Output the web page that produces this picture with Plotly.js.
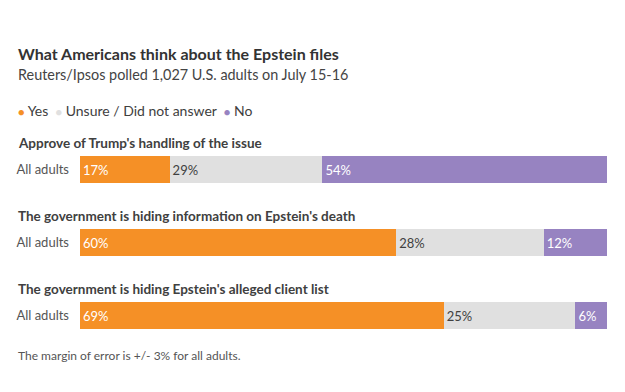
<!DOCTYPE html>
<html>
<head>
<meta charset="utf-8">
<script src="https://cdn.plot.ly/plotly-3.0.1.min.js"></script>
<style>html,body{margin:0;padding:0;background:#fff;}#chart{width:625px;height:392px;}</style>
</head>
<body>
<div id="chart"></div>
<script>
const questions = [
  "Approve of Trump's handling of the issue",
  "The government is hiding information on Epstein's death",
  "The government is hiding Epstein's alleged client list"
];
const rowLabels = ["All adults", "All adults", "All adults"];
const yesVals = [17, 60, 69];
const unsureVals = [29, 28, 25];
const noVals = [54, 12, 6];
const seriesNames = ["Yes", "Unsure / Did not answer", "No"];
const colors = ["#F59026", "#E0E0E0", "#9783C1"];
const textColors = ["#ffffff", "#404040", "#ffffff"];

const FONT = "Lato, 'Open Sans', sans-serif";
const ypos = questions.map((q, i) => i);
const series = [yesVals, unsureVals, noVals];

const traces = series.map((vals, k) => ({
  type: "bar",
  orientation: "h",
  name: seriesNames[k],
  x: vals,
  y: ypos,
  width: 0.37,
  marker: {color: colors[k], line: {width: 0}},
  text: vals.map(v => v + "%"),
  textposition: "inside",
  insidetextanchor: "start",
  textfont: {family: FONT, size: 13, color: textColors[k]},
  constraintext: "none",
  hoverinfo: "skip",
  showlegend: false
}));

const annotations = questions.map((q, i) => ({
  xref: "paper", yref: "y",
  x: -0.1214, y: i - 0.365,
  xanchor: "left", yanchor: "middle",
  text: "<b>" + q + "</b>",
  showarrow: false,
  font: {family: FONT, size: 13.5, color: "#404040"}
}));

const legendText = seriesNames.map((n, k) =>
  "<span style='color:" + colors[k] + ";font-size:11px'>●</span> " + n).join("&nbsp;&nbsp;");

annotations.push(
  {xref: "paper", yref: "paper", x: -0.1214, y: 1.365, xanchor: "left", yanchor: "middle",
   text: "<b>What Americans think about the Epstein files</b>", showarrow: false,
   font: {family: FONT, size: 16, color: "#333333"}},
  {xref: "paper", yref: "paper", x: -0.1214, y: 1.269, xanchor: "left", yanchor: "middle",
   text: "Reuters/Ipsos polled 1,027 U.S. adults on July 15-16", showarrow: false,
   font: {family: FONT, size: 14.4, color: "#444444"}},
  {xref: "paper", yref: "paper", x: -0.1214, y: 1.105, xanchor: "left", yanchor: "middle",
   text: legendText, showarrow: false,
   font: {family: FONT, size: 14, color: "#404040"}},
  {xref: "paper", yref: "paper", x: -0.1214, y: -0.014, xanchor: "left", yanchor: "middle",
   text: "The margin of error is +/- 3% for all adults.", showarrow: false,
   font: {family: FONT, size: 12, color: "#555555"}}
);

const layout = {
  width: 625, height: 392,
  margin: {l: 80, r: 18, t: 133, b: 40},
  paper_bgcolor: "#ffffff", plot_bgcolor: "#ffffff",
  barmode: "stack",
  font: {family: FONT, color: "#404040"},
  xaxis: {range: [0, 100], visible: false, fixedrange: true},
  yaxis: {
    range: [2.5, -0.5],
    tickvals: ypos, ticktext: rowLabels,
    showgrid: false, zeroline: false, showline: false,
    ticks: "", ticklabelstandoff: 10,
    tickfont: {family: FONT, size: 13, color: "#555555"},
    fixedrange: true
  },
  annotations: annotations,
  showlegend: false
};

Plotly.newPlot("chart", traces, layout, {displayModeBar: false, staticPlot: true});
</script>
</body>
</html>
